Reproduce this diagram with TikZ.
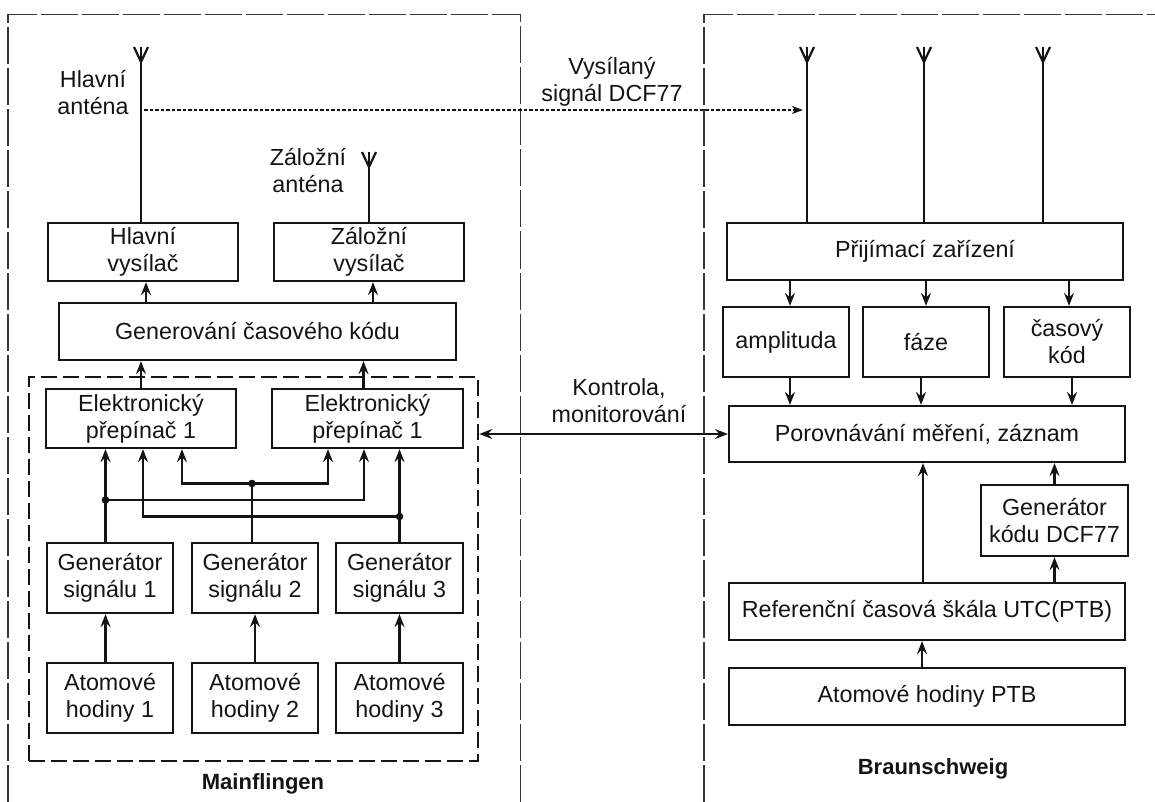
\documentclass[tikz,border=0pt]{standalone}
\usepackage{fontspec}
\setmainfont{Liberation Sans}
\usetikzlibrary{arrows.meta,calc}
\definecolor{ink}{HTML}{141414}
\begin{document}
\begin{tikzpicture}[x=1pt,y=-1pt,
  every node/.style={font=\fontsize{23.3}{27}\selectfont,text=ink},
  box/.style={draw=ink,line width=2.2pt,rectangle,inner sep=0pt,align=center},
  wire/.style={draw=ink,line width=2.2pt},
  conn/.style={wire,-{Stealth[length=13pt,width=10pt,inset=4.5pt]}},
  biconn/.style={wire,{Stealth[length=13pt,width=10pt,inset=4.5pt]}-{Stealth[length=13pt,width=10pt,inset=4.5pt]}},
  signal/.style={draw=ink,line width=1.6pt,dash pattern=on 3.5pt off 2pt,-{Stealth[length=11pt,width=8pt,inset=3pt]}},
  frame/.style={draw=ink!85,line width=1.4pt,dash pattern=on 37pt off 4pt},
  group/.style={draw=ink,line width=2.6pt,dash pattern=on 16pt off 6pt,rectangle,inner sep=0pt},
  label/.style={align=center,inner sep=0pt},
  title/.style={font=\fontsize{22}{26}\selectfont\bfseries,inner sep=0pt},
  dot/.style={fill=ink}
]
\useasboundingbox (0,0) rectangle (1155,802);

% ---------- site frames ----------
\draw[frame] (8,802) -- (8,14.5) -- (520.5,14.5) -- (520.5,802);
\draw[frame] (704,802) -- (704,14.5) -- (1155,14.5);

% ---------- Mainflingen ----------
\node[group,minimum width=449pt,minimum height=384pt] (mf) at (253.5,569) {};

\node[box,minimum width=190pt,minimum height=58pt] (hv) at (143,252) {Hlavní\\vysílač};
\node[box,minimum width=190pt,minimum height=58pt] (zv) at (369,252) {Záložní\\vysílač};
\node[box,minimum width=397pt,minimum height=57pt] (gen) at (257.5,331.5) {Generování časového kódu};
\node[box,minimum width=190pt,minimum height=59pt] (e1) at (141,418.5) {Elektronický\\přepínač 1};
\node[box,minimum width=191pt,minimum height=59pt] (e2) at (367.5,418.5) {Elektronický\\přepínač 1};
\node[box,minimum width=126pt,minimum height=70pt] (g1) at (110,578) {Generátor\\signálu 1};
\node[box,minimum width=126pt,minimum height=70pt] (g2) at (255,578) {Generátor\\signálu 2};
\node[box,minimum width=127pt,minimum height=70pt] (g3) at (399.5,578) {Generátor\\signálu 3};
\node[box,minimum width=126pt,minimum height=70pt] (a1) at (110,698) {Atomové\\hodiny 1};
\node[box,minimum width=126pt,minimum height=70pt] (a2) at (255,698) {Atomové\\hodiny 2};
\node[box,minimum width=127pt,minimum height=70pt] (a3) at (399.5,698) {Atomové\\hodiny 3};

% antennas
\coordinate (ant1) at (141,47);
\coordinate (ant2) at (369,152);
\foreach \a in {ant1,ant2}{
  \draw[wire,line join=miter] ($(\a)+(-7,0)$) -- ($(\a)+(0,15)$) -- ($(\a)+(7,0)$);
}
\draw[wire] (ant1) -- (ant1 |- hv.north);
\draw[wire] (ant2) -- (ant2 |- zv.north);

\node[label] (lhv) at (93,93) {Hlavní\\anténa};
\node[label] (lzv) at (308,171) {Záložní\\anténa};

% transmitters fed by the time code generator
\draw[conn] ([xshift=3pt]gen.north -| hv.south) -- ([xshift=3pt]hv.south);
\draw[conn] ([xshift=4pt]gen.north -| zv.south) -- ([xshift=4pt]zv.south);
\draw[conn] (e1.north) -- (e1.north |- gen.south);
\draw[conn] ([xshift=-4pt]e2.north) -- ([xshift=-4pt]e2.north |- gen.south);

% switch inputs
\coordinate (e1a) at ([xshift=-35.5pt]e1.south);
\coordinate (e1b) at ([xshift=2pt]e1.south);
\coordinate (e1c) at ([xshift=41pt]e1.south);
\coordinate (e2a) at ([xshift=-39.5pt]e2.south);
\coordinate (e2b) at ([xshift=-3.5pt]e2.south);
\coordinate (e2c) at ([xshift=32pt]e2.south);
\coordinate (j1) at (105.5,500);
\coordinate (j2) at (252,483.5);
\coordinate (j3) at (399.5,516.5);

\draw[conn] (g1.north -| e1a) -- (e1a);
\draw[conn] (j1) -| (e2b);
\draw[wire] (g2.north -| j2) -- (j2);
\draw[conn] (j2) -| (e1c);
\draw[conn] (j2) -| (e2a);
\draw[conn] (g3.north -| e2c) -- (e2c);
\draw[conn] (j3) -| (e1b);
\foreach \j in {j1,j2,j3}{ \fill[dot] (\j) circle (3.8pt); }

% clocks drive the signal generators
\draw[conn] (a1.north -| e1a) -- (g1.south -| e1a);
\draw[conn] (a2.north) -- (g2.south);
\draw[conn] (a3.north) -- (g3.south);

\node[title] (tmf) at (263,784) {Mainflingen};

% ---------- Braunschweig ----------
\node[box,minimum width=396pt,minimum height=57pt] (prij) at (925,251.5) {Přijímací zařízení};
\node[box,minimum width=126pt,minimum height=70pt] (amp) at (786,342) {amplituda};
\node[box,minimum width=126pt,minimum height=70pt] (faze) at (926,342) {fáze};
\node[box,minimum width=126pt,minimum height=70pt] (cas) at (1067,342) {časový\\kód};
\node[box,minimum width=396pt,minimum height=56pt] (por) at (927,434) {Porovnávání měření, záznam};
\node[box,minimum width=147pt,minimum height=71pt] (gk) at (1054.5,520.5) {Generátor\\kódu DCF77};
\node[box,minimum width=396pt,minimum height=57pt] (ref) at (927,611.5) {Referenční časová škála UTC(PTB)};
\node[box,minimum width=396pt,minimum height=57pt] (ah) at (927,696.5) {Atomové hodiny PTB};

% receiving antennas
\coordinate (r1) at (807,47);
\coordinate (r2) at (924,47);
\coordinate (r3) at (1043,47);
\foreach \a in {r1,r2,r3}{
  \draw[wire,line join=miter] ($(\a)+(-7,0)$) -- ($(\a)+(0,15)$) -- ($(\a)+(7,0)$);
  \draw[wire] (\a) -- (\a |- prij.north);
}

\draw[conn] ([xshift=4pt]prij.south -| amp.north) -- ([xshift=4pt]amp.north);
\draw[conn] (prij.south -| faze.north) -- (faze.north);
\draw[conn] ([xshift=2pt]prij.south -| cas.north) -- ([xshift=2pt]cas.north);
\draw[conn] ([xshift=4pt]amp.south) -- ([xshift=4pt]amp.south |- por.north);
\draw[conn] ([xshift=-5pt]faze.south) -- ([xshift=-5pt]faze.south |- por.north);
\draw[conn] ([xshift=5pt]cas.south) -- ([xshift=5pt]cas.south |- por.north);
\draw[conn] ([xshift=-4pt]ref.north) -- ([xshift=-4pt]ref.north |- por.south);
\draw[conn] (ref.north -| gk.south) -- (gk.south);
\draw[conn] (gk.north) -- (gk.north |- por.south);
\draw[conn] ([xshift=-5pt]ah.north) -- ([xshift=-5pt]ah.north |- ref.south);

\node[title] (tbs) at (933,769) {Braunschweig};

% ---------- links between the sites ----------
\coordinate (sigS) at (144,110);
\coordinate (sigE) at (803,110);
\draw[signal] (sigS) -- (sigE);
\node[label] (lsig) at (612,82) {Vysílaný\\signál DCF77};

\draw[biconn] (mf.east |- por.west) -- (por.west);
\node[label] (lkon) at (619,401) {Kontrola,\\monitorování};

\end{tikzpicture}
\end{document}
